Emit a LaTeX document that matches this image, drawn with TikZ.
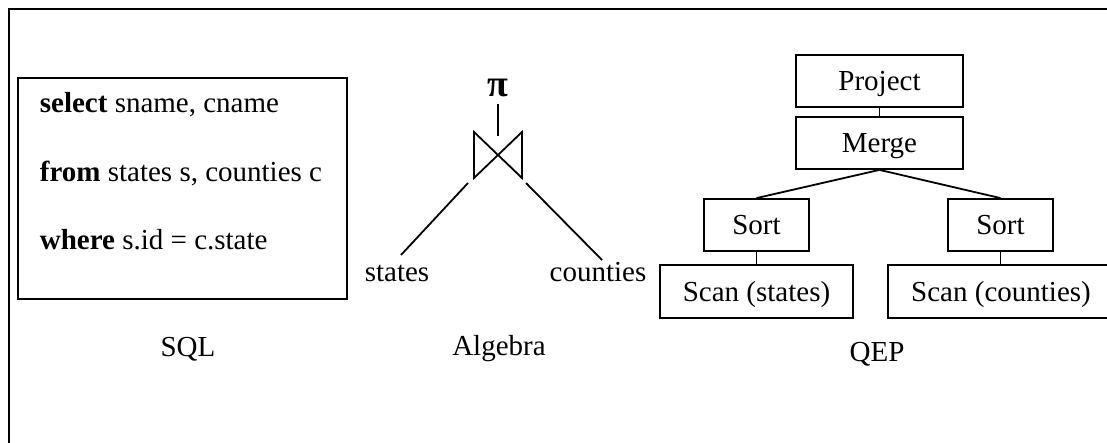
\documentclass[tikz,border=0pt]{standalone}
\usepackage{fontspec}
\setmainfont{Liberation Serif}
\begin{document}
\begin{tikzpicture}[x=1pt,y=-1pt,line width=1.8pt,
  every node/.style={font=\fontsize{29}{34}\selectfont, inner sep=0pt},
  op/.style={draw, minimum height=52pt, text height=20pt, text depth=0pt},
  lbl/.style={anchor=base},
  sqlline/.style={anchor=base west}]
\useasboundingbox (0,0) rectangle (1107,443);
\clip (0,0) rectangle (1107,443);

% outer frame (top and left sides)
\draw (9,443) |- (1107,9);

% SQL query
\node[draw, minimum width=329pt, minimum height=221pt] (sqlbox) at (182.5,188.5) {};
\node[sqlline] (sel) at (39,113) {\textbf{select} sname, cname};
\node[sqlline] (frm) at (39,182) {\textbf{from} states s, counties c};
\node[sqlline] (whr) at (39,250) {\textbf{where} s.id = c.state};
\node[lbl] (sql) at (188,356) {SQL};

% relational algebra tree
\node[lbl, font=\fontsize{38}{44}\selectfont] (pi) at (498,97) {\textbf{π}};
\coordinate (join) at (498,155);
\coordinate (jointop) at (498,136);
\draw (join) ++(-24,-23) -- ++(0,46) -- ++(48,-46) -- ++(0,46) -- cycle;
\draw ([yshift=-6pt]pi.south) -- (jointop);
\node[lbl] (states) at (397,282) {states};
\node[lbl] (counties) at (598,282) {counties};
\coordinate (jl) at (468,183);
\coordinate (jr) at (526,183);
\coordinate (sl) at (401,255);
\coordinate (cl) at (602,260);
\draw (jl) -- (sl);
\draw (jr) -- (cl);
\node[lbl] (alg) at (499,355) {Algebra};

% query execution plan
\node[op, minimum width=167pt] (project) at (879.5,81) {Project};
\node[op, minimum width=167pt] (merge) at (879.5,143) {Merge};
\node[op, minimum width=105pt] (sortl) at (756.5,225) {Sort};
\node[op, minimum width=105pt] (sortr) at (1000.5,225) {Sort};
\node[op, minimum width=193pt, minimum height=53pt] (scanl) at (756.5,291.5) {Scan (states)};
\node[op, minimum width=226pt, minimum height=53pt] (scanr) at (1001,291.5) {Scan (counties)};
\draw (project) -- (merge);
\draw (merge.south) -- (sortl.north);
\draw (merge.south) -- (sortr.north);
\draw (sortl.south) -- (sortl.south |- scanl.north);
\draw (sortr.south) -- (sortr.south |- scanr.north);
\node[lbl] (qep) at (877,361) {QEP};
\end{tikzpicture}
\end{document}
